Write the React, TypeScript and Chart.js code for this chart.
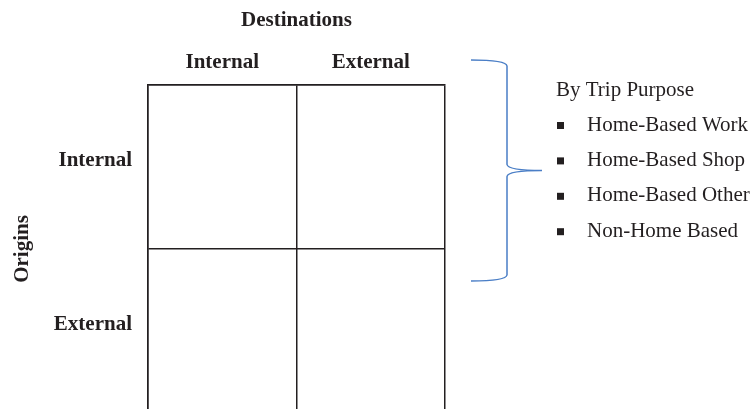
import React, { useEffect, useRef } from 'react';
import { Chart, registerables } from 'chart.js';

Chart.register(...registerables);

// ---- data ----
const destinationLabels = ['Internal', 'External'];
const originLabels = ['Internal', 'External'];
const xAxisTitle = 'Destinations';
const yAxisTitle = 'Origins';
const legendTitle = 'By Trip Purpose';
const tripPurposes = ['Home-Based Work', 'Home-Based Shop', 'Home-Based Other', 'Non-Home Based'];

// ---- style ----
const FONT = "'Liberation Serif', 'Times New Roman', serif";
const INK = '#231f20';
const BRACE = '#4a7ec6';
const SIZE = 21;

const braceLegendPlugin = {
  id: 'braceLegend',
  afterDraw(chart: any) {
    const { ctx, chartArea } = chart;
    const r = chartArea.right;
    const t = chartArea.top;
    const x0 = r + 26;
    const xv = r + 62;
    const xt = r + 97;
    const yTop = t - 25;
    const yMid = t + 85.5;
    const yBot = t + 196;
    ctx.save();
    ctx.strokeStyle = BRACE;
    ctx.lineWidth = 1.5;
    ctx.beginPath();
    ctx.moveTo(x0, yTop);
    ctx.quadraticCurveTo(xv - 1, yTop, xv, yTop + 6);
    ctx.lineTo(xv, yMid - 6);
    ctx.quadraticCurveTo(xv + 1, yMid, xt, yMid);
    ctx.quadraticCurveTo(xv + 1, yMid, xv, yMid + 6);
    ctx.lineTo(xv, yBot - 6);
    ctx.quadraticCurveTo(xv - 1, yBot, x0, yBot);
    ctx.stroke();

    const lx = r + 111;
    ctx.fillStyle = INK;
    ctx.font = `${SIZE}px ${FONT}`;
    ctx.textBaseline = 'middle';
    ctx.textAlign = 'left';
    ctx.fillText(legendTitle, lx, t + 5);
    tripPurposes.forEach((p, i) => {
      const y = t + 40 + i * 35.4;
      ctx.fillRect(lx + 1, y - 3, 7, 7);
      ctx.fillText(p, lx + 31, y);
    });
    ctx.restore();
  },
};

export default function App() {
  const ref = useRef<HTMLCanvasElement | null>(null);

  useEffect(() => {
    if (!ref.current) return;
    const boldFont = { family: FONT, size: SIZE, weight: 'bold' as const, lineHeight: 1.2 };
    const chart = new Chart(ref.current, {
      type: 'scatter',
      data: { datasets: [] },
      options: {
        responsive: false,
        animation: false,
        layout: { padding: { left: 0, right: 307, top: 0, bottom: 0 } },
        plugins: {
          legend: { display: false },
          tooltip: { enabled: false },
        },
        scales: {
          x: {
            type: 'category',
            labels: destinationLabels,
            position: 'top',
            offset: true,
            grid: { offset: true, color: INK, lineWidth: 1.5, drawTicks: false },
            border: { display: true, color: INK, width: 1.5 },
            ticks: { color: INK, font: boldFont, padding: 10, maxRotation: 0, autoSkip: false },
            title: {
              display: true,
              text: xAxisTitle,
              color: INK,
              font: boldFont,
              padding: { top: 8, bottom: 6.6 },
            },
          },
          y: {
            type: 'category',
            labels: originLabels,
            offset: true,
            grid: { offset: true, color: INK, lineWidth: 1.5, drawTicks: false },
            border: { display: true, color: INK, width: 1.5 },
            ticks: {
              color: INK,
              font: { ...boldFont, lineHeight: 13 / SIZE },
              padding: 16,
              autoSkip: false,
              callback: (_v: any, i: number) => [originLabels[i], ''],
            },
            title: {
              display: true,
              text: yAxisTitle,
              color: INK,
              font: boldFont,
              padding: { top: 10, bottom: 0 },
            },
            afterFit: (s: any) => {
              s.width = 148;
              s.paddingTop = 0;
              s.paddingBottom = 0;
            },
          },
        },
      } as any,
      plugins: [braceLegendPlugin],
    });
    return () => chart.destroy();
  }, []);

  return (
    <div
      style={{
        position: 'absolute',
        left: 0,
        top: 0,
        width: 752,
        height: 409,
        overflow: 'hidden',
        background: '#fff',
      }}
    >
      <canvas ref={ref} width={752} height={413} style={{ display: 'block' }} />
    </div>
  );
}
